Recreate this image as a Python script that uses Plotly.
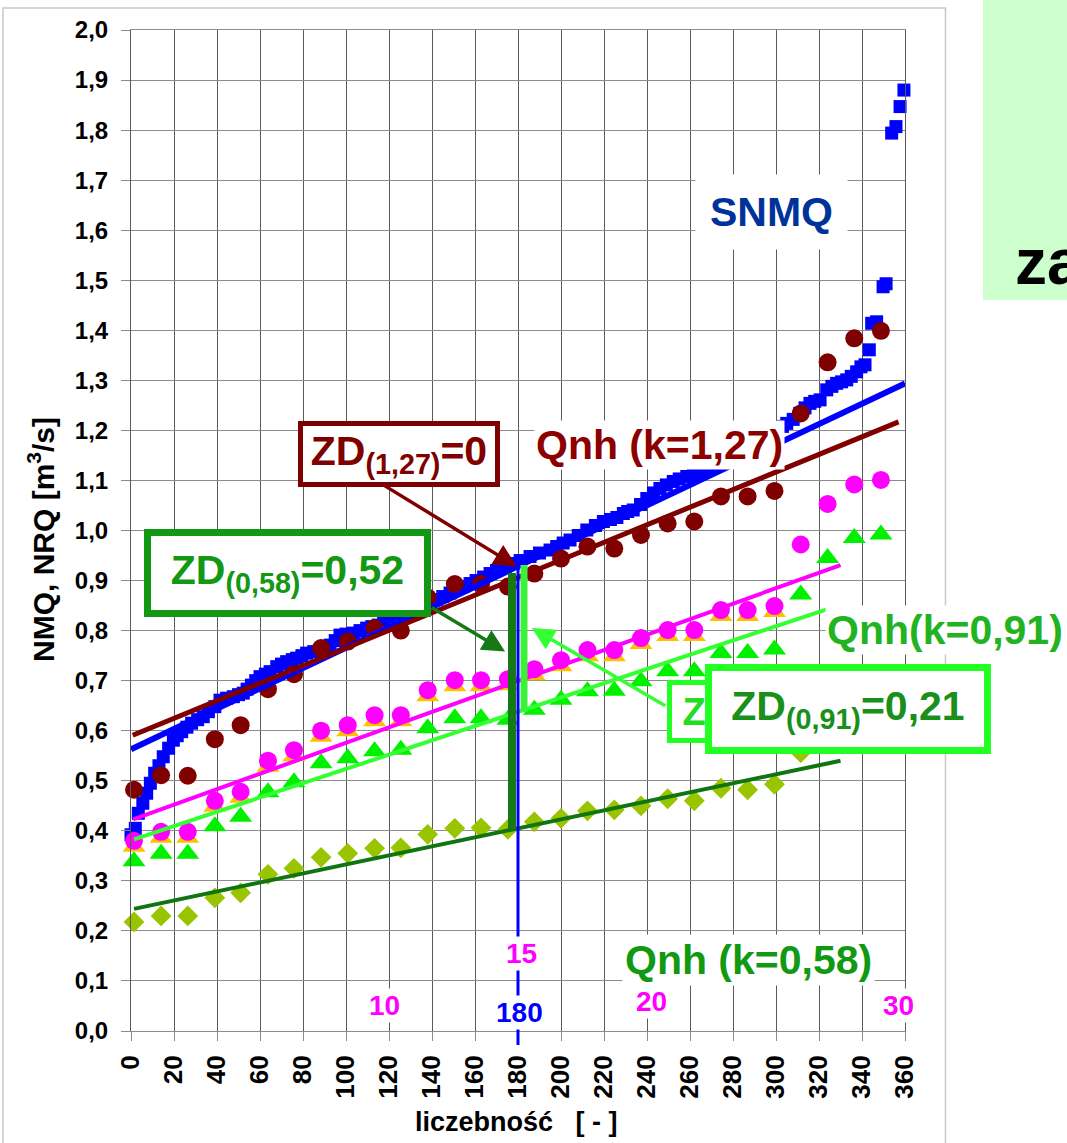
import plotly.graph_objects as go

FONT = "Liberation Sans, Arial, sans-serif"

# ---------------- data ----------------
# x positions (liczebnosc) of the 29 yearly values
x_years = [1.4, 14.0, 26.4, 39.0, 51.0, 63.7, 75.8, 88.4, 100.8, 113.3, 125.5, 138.0,
           150.6, 162.8, 175.3, 187.6, 200.0, 212.3, 224.8, 237.2, 249.6, 262.0, 274.4,
           286.8, 299.3, 311.5, 324.0, 336.4, 348.8]

# Qnh (k=1,27) – maroon circles
nmq_127 = [0.482, 0.511, 0.510, 0.583, 0.611, 0.683, 0.713, 0.765, 0.778, 0.805, 0.800,
           0.866, 0.893, 0.893, 0.888, 0.914, 0.944, 0.968, 0.964, 0.991, 1.014, 1.018,
           1.068, 1.068, 1.079, 1.234, 1.336, 1.384, 1.399]

# SNQ – magenta circles
snq = [0.380, 0.398, 0.398, 0.460, 0.478, 0.540, 0.561, 0.600, 0.611, 0.631, 0.631,
       0.681, 0.701, 0.701, 0.703, 0.723, 0.741, 0.761, 0.761, 0.785, 0.801, 0.801,
       0.841, 0.841, 0.849, 0.972, 1.053, 1.092, 1.101]

# NRQ – orange triangles (mostly hidden behind SNQ)
nrq = [0.368, 0.386, 0.386, 0.448, 0.466, 0.528, 0.549, 0.588, 0.599, 0.619, 0.619,
       0.669, 0.689, 0.689, 0.691, 0.711, 0.729, 0.749, 0.749, 0.773, 0.789, 0.789,
       0.829, 0.829, 0.837]

# Qnh (k=0,91) – green triangles
nmq_091 = [0.339, 0.354, 0.354, 0.409, 0.428, 0.477, 0.497, 0.535, 0.545, 0.559, 0.562,
           0.605, 0.625, 0.625, 0.622, 0.642, 0.662, 0.679, 0.680, 0.699, 0.719, 0.719,
           0.755, 0.755, 0.762, 0.872, 0.945, 0.985, 0.992]

# Qnh (k=0,58) – yellow-green diamonds
nmq_058 = [0.218, 0.230, 0.230, 0.266, 0.276, 0.313, 0.325, 0.347, 0.355, 0.365, 0.366,
           0.393, 0.405, 0.406, 0.403, 0.418, 0.425, 0.440, 0.442, 0.450, 0.464, 0.460,
           0.485, 0.482, 0.493, 0.556]

# SNMQ – blue squares (ordered values)
snmq_x = [0, 2, 3.4, 5.5, 7.3, 9, 11, 13, 15, 17.5, 19.7, 21.5, 23.6, 26, 28.2, 31, 33.6,
          36, 39, 41.4, 44.5, 47.6, 50, 52.2, 54, 56, 58, 60, 62.5, 64.7, 67.8, 70, 72.4,
          75, 77, 79.5, 81.7, 85, 87.9, 90.5, 92.6, 95, 97.2, 100, 103.4, 106.5, 109.6,
          112, 115, 117.5, 120.5, 124, 127, 129.8, 132.5, 136, 139, 142, 145, 148.4, 151,
          154.5, 157.7, 160.5, 164, 167, 170, 174, 177.8, 181, 185.6, 190, 194.9, 198,
          201, 204.2, 208, 212, 216, 219.7, 223, 226, 229, 231, 233.6, 237, 239.9, 243,
          246, 249, 252.2, 255, 258.5, 261.5, 264.7, 268, 271, 274.5, 278, 281, 284.5, 288,
          291, 294.5, 297.5, 300.3, 303, 305, 308, 311, 313.5, 315.8, 318, 320.5, 323.6,
          326, 328.2, 330.5, 332.9, 335, 337.5, 339.5, 341.4, 343.4, 344.5, 346.8, 349.8,
          351.2, 353.8, 355.8, 357.7, 359.5]
snmq_y = [0.392, 0.405, 0.435, 0.455, 0.475, 0.495, 0.515, 0.530, 0.548, 0.565, 0.581,
          0.590, 0.598, 0.607, 0.615, 0.622, 0.628, 0.638, 0.648, 0.661, 0.665, 0.668,
          0.672, 0.675, 0.683, 0.691, 0.700, 0.708, 0.713, 0.718, 0.728, 0.733, 0.738,
          0.742, 0.745, 0.750, 0.755, 0.758, 0.761, 0.767, 0.771, 0.780, 0.791, 0.793,
          0.795, 0.800, 0.805, 0.808, 0.811, 0.820, 0.828, 0.834, 0.838, 0.841, 0.846,
          0.850, 0.855, 0.862, 0.868, 0.875, 0.882, 0.888, 0.894, 0.900, 0.907, 0.914,
          0.920, 0.927, 0.934, 0.940, 0.948, 0.955, 0.961, 0.968, 0.975, 0.981, 0.990,
          1.001, 1.010, 1.018, 1.022, 1.026, 1.034, 1.038, 1.041, 1.052, 1.064, 1.075,
          1.084, 1.091, 1.098, 1.103, 1.108, 1.113, 1.117, 1.125, 1.132, 1.140, 1.148,
          1.155, 1.163, 1.172, 1.180, 1.188, 1.195, 1.201, 1.208, 1.214, 1.222, 1.234,
          1.245, 1.254, 1.258, 1.261, 1.281, 1.288, 1.294, 1.297, 1.301, 1.308, 1.317,
          1.327, 1.331, 1.361, 1.414, 1.417, 1.487, 1.493, 1.794, 1.807, 1.847, 1.880]

# trend lines (start / end)
trend_snmq_x, trend_snmq_y = [0, 360], [0.563, 1.294]
trend_127_x, trend_127_y = [0.8, 357], [0.591, 1.217]
trend_snq_x, trend_snq_y = [1, 330], [0.423, 0.931]
trend_091_x, trend_091_y = [1.4, 326], [0.383, 0.846]
trend_058_x, trend_058_y = [1.4, 330], [0.244, 0.540]

# ZD bars at liczebnosc = 180
zd058_x, zd058_y = [177.2, 177.2], [0.403, 0.915]
zd091_x, zd091_y = [182.8, 182.8], [0.638, 0.931]
cut_x = 180
cut_top = 0.941

x_ticks = [0, 20, 40, 60, 80, 100, 120, 140, 160, 180, 200, 220, 240, 260, 280, 300, 320, 340, 360]
x_ticktext = ["0", "20", "40", "60", "80", "100", "120", "140", "160", "180", "200", "220",
              "240", "260", "280", "300", "320", "340", "360"]
y_ticks = [0.0, 0.1, 0.2, 0.3, 0.4, 0.5, 0.6, 0.7, 0.8, 0.9, 1.0, 1.1, 1.2, 1.3, 1.4, 1.5,
           1.6, 1.7, 1.8, 1.9, 2.0]
y_ticktext = ["0,0", "0,1", "0,2", "0,3", "0,4", "0,5", "0,6", "0,7", "0,8", "0,9", "1,0",
              "1,1", "1,2", "1,3", "1,4", "1,5", "1,6", "1,7", "1,8", "1,9", "2,0"]

# ---------------- figure ----------------
fig = go.Figure()

fig.add_trace(go.Scatter(x=snmq_x, y=snmq_y, mode="markers", cliponaxis=False,
                         marker=dict(symbol="square", size=13, color="#0000ff")))
fig.add_trace(go.Scatter(x=x_years[:len(nrq)], y=nrq, mode="markers", cliponaxis=False,
                         marker=dict(symbol="triangle-up", size=20, color="#ffc000")))
fig.add_trace(go.Scatter(x=x_years, y=snq, mode="markers", cliponaxis=False,
                         marker=dict(symbol="circle", size=18, color="#ff00ff")))
fig.add_trace(go.Scatter(x=x_years, y=nmq_091, mode="markers", cliponaxis=False,
                         marker=dict(symbol="triangle-up", size=20, color="#00f000")))
fig.add_trace(go.Scatter(x=x_years[:len(nmq_058)], y=nmq_058, mode="markers", cliponaxis=False,
                         marker=dict(symbol="diamond", size=16, color="#99c400")))
fig.add_trace(go.Scatter(x=x_years, y=nmq_127, mode="markers", cliponaxis=False,
                         marker=dict(symbol="circle", size=18, color="#800000")))

for tx, ty, col, w in [(trend_snmq_x, trend_snmq_y, "#0000ff", 6),
                       (trend_127_x, trend_127_y, "#800000", 5),
                       (trend_snq_x, trend_snq_y, "#ff00ff", 4),
                       (trend_091_x, trend_091_y, "#33ff33", 4),
                       (trend_058_x, trend_058_y, "#107510", 4)]:
    fig.add_trace(go.Scatter(x=tx, y=ty, mode="lines", line=dict(color=col, width=w)))

fig.add_trace(go.Scatter(x=zd058_x, y=zd058_y, mode="lines", line=dict(color="#157a15", width=8)))
fig.add_trace(go.Scatter(x=zd091_x, y=zd091_y, mode="lines", line=dict(color="#3cf03c", width=7)))

shapes = [
    # chart frame
    dict(type="rect", xref="paper", yref="paper", x0=-0.1654, x1=1.0523, y0=-0.13, y1=1.022,
         line=dict(color="#c8c8c8", width=1.5), layer="below"),
    # green slide box
    dict(type="rect", xref="paper", yref="paper", x0=1.1008, x1=1.25, y0=0.7303, y1=1.05,
         line=dict(width=0), fillcolor="#ccffcc", layer="below"),
    # cut line at 180
    dict(type="line", xref="x", yref="paper", x0=cut_x, x1=cut_x, y0=-0.014, y1=cut_top / 2,
         line=dict(color="#0000ff", width=3)),
]


def box(text, x, y, color, border, w, h, bw, size=41, xanchor="center", align="center"):
    return dict(x=x, y=y, xref="x", yref="y", text=text, showarrow=False,
                font=dict(family=FONT, size=size, color=color), bgcolor="white",
                bordercolor=border, borderwidth=bw, borderpad=0, width=w, height=h,
                xanchor=xanchor, yanchor="middle", align=align, valign="middle")


def arrow(x0, y0, x1, y1, color):
    return dict(x=x1, y=y1, ax=x0, ay=y0, xref="x", yref="y", axref="x", ayref="y",
                text="", showarrow=True, arrowhead=2, arrowsize=1.3, arrowwidth=3.5,
                arrowcolor=color, standoff=0, startstandoff=0)


def label(text, x, y, color, size=40, xanchor="center", pad=2, bold=True):
    t = f"<b>{text}</b>" if bold else text
    return dict(x=x, y=y, xref="x", yref="y", text=t, showarrow=False,
                font=dict(family=FONT, size=size, color=color), bgcolor="white",
                borderpad=pad, xanchor=xanchor, yanchor="middle")


annotations = [
    # secondary count labels
    label("10", 118.1, 0.050, "#ff00ff", size=28, pad=1),
    label("20", 242.3, 0.058, "#ff00ff", size=28, pad=1),
    label("30", 357.2, 0.050, "#ff00ff", size=28, pad=1),
    label("15", 181.4, 0.154, "#ff00ff", size=28, pad=1),
    label("180", 180.7, 0.036, "#0000ff", size=28, pad=1),
    # series names
    label("SNMQ", 298.1, 1.636, "#003399", size=41, pad=14),
    label("Qnh (k=1,27)", 245.6, 1.171, "#8c0000", size=41, pad=1),
    label("SNQ", 388.8, 1.077, "#cc00cc", size=40, pad=2),
    label("Qnh(k=0,91)", 322.8, 0.801, "#22b322", size=41, xanchor="left", pad=1),
    label("Qnh (k=0,58)", 287.0, 0.142, "#129912", size=41, pad=2),
    # arrows
    arrow(117.4, 1.091, 179.4, 0.928, "#800000"),
    arrow(139.1, 0.848, 174.0, 0.758, "#157a15"),
    arrow(249.2, 0.648, 186.4, 0.805, "#33ff33"),
    # ZD boxes
    box("<b>ZD<sub>(1,27)</sub>=0</b>", 124.7, 1.153, "#7f0000", "#7f0000", 192, 56, 5),
    box("<b>ZD<sub>(0,58)</sub>=0,52</b>", 73.0, 0.916, "#139813", "#139813", 273, 74, 7),
    box("<b>&nbsp;ZD</b>", 249.2, 0.639, "#22dd22", "#22ff22", 80, 53, 5,
        size=38, xanchor="left", align="left"),
    box("<b>ZD<sub>(0,91)</sub>=0,21</b>", 333.3, 0.644, "#1a8f1a", "#22ff22", 272, 76, 7),
    # axis titles
    dict(x=-0.1163, y=0.4915, xref="paper", yref="paper", showarrow=False, textangle=-90,
         xanchor="center", yanchor="middle",
         text="<b>NMQ, NRQ [m<sup>3</sup>/s]</b>", font=dict(family=FONT, size=30, color="black")),
    dict(x=0.4987, y=-0.0909, xref="paper", yref="paper", showarrow=False,
         xanchor="center", yanchor="middle",
         text="<b>liczebność\u00a0\u00a0\u00a0[ - ]</b>", font=dict(family=FONT, size=27, color="black")),
    # slide text
    dict(x=1.1395, y=0.768, xref="paper", yref="paper", showarrow=False, xanchor="left",
         yanchor="middle", text="<b>za</b>", font=dict(family=FONT, size=64, color="black")),
]

fig.update_layout(
    width=1067, height=1143,
    margin=dict(l=131, r=162, t=30, b=112),
    paper_bgcolor="white", plot_bgcolor="white",
    showlegend=False,
    font=dict(family=FONT, color="black"),
    shapes=shapes, annotations=annotations,
)
fig.update_xaxes(range=[0, 360], tickvals=x_ticks, ticktext=x_ticktext, tickangle=-90,
                 showgrid=True, gridcolor="#5a5a5a", gridwidth=1, zeroline=False,
                 showline=True, linecolor="#8c8c8c", mirror=True,
                 ticks="outside", ticklen=9, tickcolor="#8c8c8c", ticklabelstandoff=4,
                 tickfont=dict(family=FONT, size=26, color="black", weight="bold"))
fig.update_yaxes(range=[0, 2.0], tickvals=y_ticks, ticktext=y_ticktext,
                 showgrid=True, gridcolor="#8c8c8c", gridwidth=1, zeroline=False,
                 showline=True, linecolor="#5a5a5a", mirror=True,
                 ticks="outside", ticklen=9, tickcolor="#8c8c8c", ticklabelstandoff=8,
                 tickfont=dict(family=FONT, size=24, color="black", weight="bold"))

fig.write_html("out.html", config={"displayModeBar": False},
               post_script="document.body.style.margin='0px';document.body.style.overflow='hidden';")
